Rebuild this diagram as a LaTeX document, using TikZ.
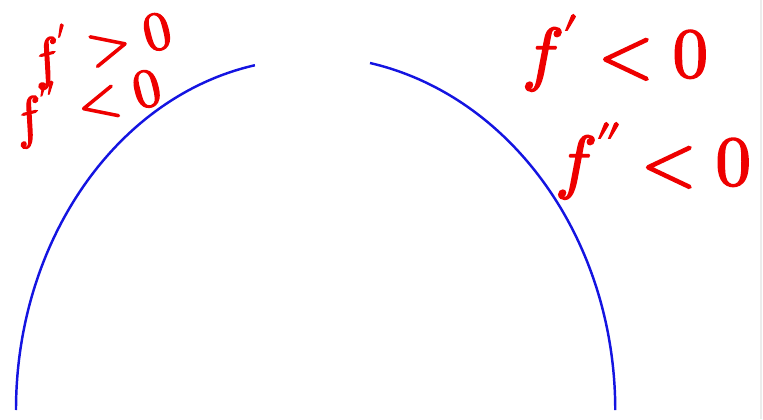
\documentclass[tikz,border=0pt]{standalone}
\usepackage{tikz}
\usepackage{unicode-math}
\setmathfont{Latin Modern Math}
\setmathfont{Latin Modern Math}[version=pen, FakeBold=2.5]
\usetikzlibrary{positioning}
\definecolor{pen_red}{RGB}{238,0,0}
\definecolor{pen_blue}{RGB}{20,20,225}

\begin{document}
\begin{tikzpicture}[x=0.02cm, y=0.02cm,
      curve/.style={draw=pen_blue, line width=1.4pt},
      note/.style={text=pen_red, inner sep=0pt, font=\fontsize{40}{44}\selectfont\mathversion{pen}},
      small note/.style={note, font=\fontsize{31}{34}\selectfont\mathversion{pen}}]
    \useasboundingbox (0,0) rectangle (763,419);
    \draw[gray!15, line width=0.6pt] (761,0) -- (761,419);
    % rising, concave down
    \draw[curve] (16,9) arc[start angle=180, end angle=100.8, x radius=294, y radius=351];
    % falling, concave down
    \draw[curve] (370,356) arc[start angle=78.7, end angle=0, x radius=305, y radius=354];
    \node[small note, rotate=14] (left1) at (100,374) {$f'>0$};
    \node[small note, rotate=14] (left2) at (86,316) {$f''<0$};
    \node[note] (right1) at (615,366) {$f'<0$};
    \node[note] (right2) at (653,258) {$f''<0$};
  \end{tikzpicture}
\end{document}
